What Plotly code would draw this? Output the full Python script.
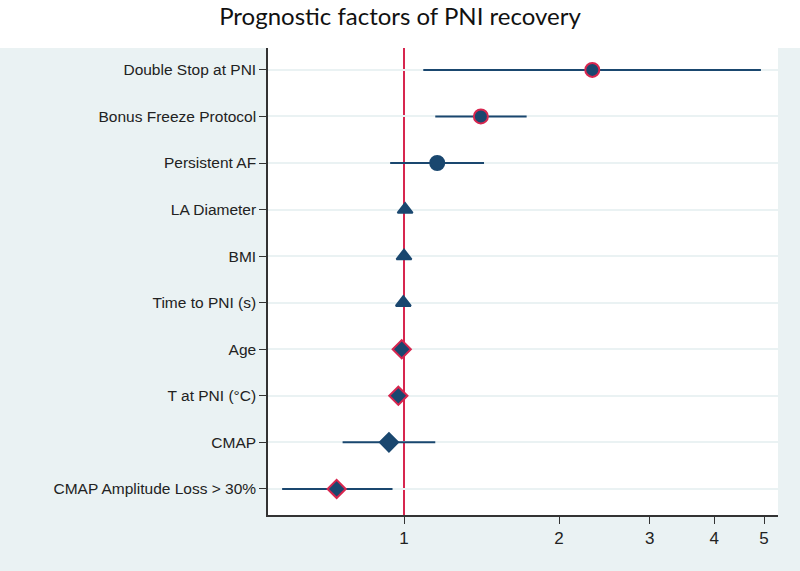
import plotly.graph_objects as go

factors = ["Double Stop at PNI", "Bonus Freeze Protocol", "Persistent AF", "LA Diameter",
           "BMI", "Time to PNI (s)", "Age", "T at PNI (°C)", "CMAP", "CMAP Amplitude Loss > 30%"]
estimate = [2.32, 1.41, 1.16, 1.005, 1.0, 0.997, 0.99, 0.975, 0.935, 0.74]
ci_low = [1.09, 1.15, 0.94, 1.0, 0.995, 0.992, 0.985, 0.97, 0.76, 0.58]
ci_high = [4.93, 1.73, 1.43, 1.01, 1.005, 1.002, 0.995, 0.98, 1.15, 0.95]
symbols = ["circle", "circle", "circle", "triangle-up", "triangle-up", "triangle-up",
           "diamond", "diamond", "diamond", "diamond"]
significant = [True, True, False, False, False, False, True, True, False, True]
x_ticks = [1, 2, 3, 4, 5]

NAVY = "#1a476f"
RED = "#d7264f"
BG = "#eaf2f3"

fig = go.Figure()
fig.add_trace(go.Scatter(
    x=estimate, y=factors, mode="markers",
    error_x=dict(type="data", symmetric=False,
                 array=[h - e for h, e in zip(ci_high, estimate)],
                 arrayminus=[e - l for e, l in zip(estimate, ci_low)],
                 color=NAVY, thickness=2, width=0),
    marker=dict(symbol=symbols, color=NAVY, opacity=1,
                size=[14 if s != "triangle-up" else 13 for s in symbols],
                line=dict(color=[RED if sg else NAVY for sg in significant], width=2)),
    showlegend=False, hoverinfo="x+y"))

fig.add_shape(type="line", xref="x", yref="paper", x0=1, x1=1, y0=0, y1=1,
              line=dict(color=RED, width=2), layer="between")
# white strip behind the title
fig.add_shape(type="rect", xref="paper", yref="paper",
              x0=-268 / 510, x1=1 + 22 / 510, y0=1, y1=1 + 60 / 467,
              fillcolor="white", line=dict(width=0), layer="below")

fig.update_layout(
    width=800, height=571,
    margin=dict(l=268, r=22, t=48, b=56),
    paper_bgcolor=BG, plot_bgcolor="white",
    title=dict(text="Prognostic factors of PNI recovery", x=0.5, xref="container",
               y=1 - 17 / 571, yanchor="middle", xanchor="center",
               font=dict(family="Lato", size=24, color="#111")),
    font=dict(family="Liberation Sans", size=15.5, color="#222"),
)
fig.update_xaxes(type="log", range=[-0.264, 0.726], tickvals=x_ticks,
                 ticktext=[str(v) for v in x_ticks], ticks="outside", ticklen=7,
                 tickcolor="#333", showline=True, linecolor="#333", linewidth=1.5,
                 showgrid=False, zeroline=False, tickfont=dict(size=17))
fig.update_yaxes(type="category", categoryorder="array", categoryarray=factors,
                 range=[9.56, -0.47], ticks="outside", ticklen=7, tickcolor="#333",
                 showline=True, linecolor="#333", linewidth=1.5,
                 showgrid=True, gridcolor=BG, gridwidth=1.5, zeroline=False)

fig.write_html("out.html", config={"displayModeBar": False},
               post_script="document.body.style.margin='0';")
